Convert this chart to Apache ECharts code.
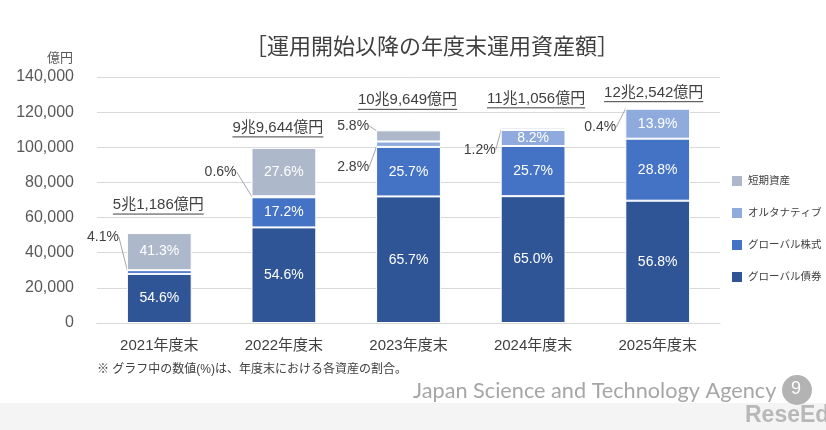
<!DOCTYPE html>
<html>
<head>
<meta charset="utf-8">
<script src="https://cdn.jsdelivr.net/npm/echarts@6/dist/echarts.min.js"></script>
<style>
  html, body { margin: 0; padding: 0; background: #fff; }
  #chart { width: 826px; height: 430px; }
</style>
</head>
<body>
<div id="chart"></div>
<script>
// data (億円 and % of each year end)
var categories = ['2021年度末', '2022年度末', '2023年度末', '2024年度末', '2025年度末'];
var totals = [51186, 99644, 109649, 111056, 122542];
var totalLabels = ['5兆1,186億円', '9兆9,644億円', '10兆9,649億円', '11兆1,056億円', '12兆2,542億円'];
var bondPct = [54.6, 54.6, 65.7, 65.0, 56.8];    // グローバル債券
var equityPct = [4.1, 17.2, 25.7, 25.7, 28.8];   // グローバル株式
var altPct = [0, 0.6, 2.8, 8.2, 13.9];           // オルタナティブ
var shortPct = [41.3, 27.6, 5.8, 1.2, 0.4];      // 短期資産
var yTicks = { min: 0, max: 140000, interval: 20000 };

// layout tweaks for labels (pixels), not data
var totalOffset = [[-1, -28], [-6, -20], [-1, -30], [3, -29], [-4, -15]];
var outsideEquity = { 0: [-3, -35] };
var outsideAlt = { 1: [-10, -25], 2: [-2, 23] };
var outsideShort = { 2: [-2, -10], 3: [0, 21], 4: [-4, 19] };

var FONT = "'Liberation Sans', 'Noto Sans CJK JP', sans-serif";

var chart = echarts.init(document.getElementById('chart'));

// text width for underline
var measureCtx = document.createElement('canvas').getContext('2d');
function textWidth(t, size) {
    measureCtx.font = size + 'px ' + FONT;
    return measureCtx.measureText(t).width;
}

function makeSeries(name, pcts, color, outside) {
    var data = pcts.map(function (p, i) {
        var item = { value: totals[i] * p / 100 };
        if (p <= 0) {
            item.label = { show: false };
        } else if (outside[i]) {
            item.label = { show: true, position: 'left', distance: 5, color: '#404040' };
            item.labelLine = { show: true, lineStyle: { color: '#a6a6a6', width: 1 } };
        }
        return item;
    });
    return {
        name: name,
        type: 'bar',
        stack: 'total',
        barWidth: '52%',
        data: data,
        itemStyle: { color: color, borderColor: '#fff', borderWidth: 1 },
        label: {
            show: true,
            position: 'inside',
            color: '#fff',
            fontSize: 14,
            fontFamily: FONT,
            formatter: function (params) { return pcts[params.dataIndex].toFixed(1) + '%'; }
        },
        labelLayout: function (params) {
            var o = outside[params.dataIndex];
            return o ? { dx: o[0], dy: o[1] } : {};
        }
    };
}

var option = {
    animation: false,
    textStyle: { fontFamily: FONT },
    title: {
        text: '［運用開始以降の年度末運用資産額］',
        left: 240,
        top: 32,
        textStyle: { fontSize: 22, fontWeight: 'normal', color: '#404040', fontFamily: FONT }
    },
    legend: {
        orient: 'vertical',
        left: 730,
        top: 174,
        padding: 0,
        itemWidth: 12,
        itemHeight: 12,
        itemGap: 18,
        icon: 'rect',
        data: ['短期資産', 'オルタナティブ', 'グローバル株式', 'グローバル債券'],
        textStyle: { fontSize: 10.5, color: '#404040', fontFamily: FONT }
    },
    grid: { left: 97, right: 106, top: 77, bottom: 107, containLabel: false },
    xAxis: {
        type: 'category',
        data: categories,
        axisLine: { lineStyle: { color: '#d9d9d9' } },
        axisTick: { show: false },
        axisLabel: { fontSize: 15, color: '#404040', margin: 15, fontFamily: FONT }
    },
    yAxis: {
        type: 'value',
        min: yTicks.min,
        max: yTicks.max,
        interval: yTicks.interval,
        name: '億円',
        nameLocation: 'end',
        nameGap: 12,
        nameTextStyle: { fontSize: 13, color: '#595959', align: 'right', padding: [0, 24, 0, 0] },
        axisLine: { show: false },
        axisTick: { show: false },
        splitLine: { lineStyle: { color: '#d9d9d9' } },
        axisLabel: {
            fontSize: 16,
            color: '#595959',
            margin: 23,
            fontFamily: FONT,
            formatter: function (v) { return v.toLocaleString('en-US'); }
        }
    },
    series: [
        makeSeries('グローバル債券', bondPct, '#2f5597', {}),
        makeSeries('グローバル株式', equityPct, '#4472c4', outsideEquity),
        makeSeries('オルタナティブ', altPct, '#8faadc', outsideAlt),
        makeSeries('短期資産', shortPct, '#adb9ca', outsideShort),
        {
            // underlined totals above bars
            name: 'total',
            type: 'custom',
            z: 10,
            data: totals.map(function (v, i) { return [i, v]; }),
            renderItem: function (params, api) {
                var i = params.dataIndex;
                var pt = api.coord([api.value(0), api.value(1)]);
                var x = pt[0] + totalOffset[i][0];
                var y = pt[1] + totalOffset[i][1];
                var w = textWidth(totalLabels[i], 15);
                return {
                    type: 'group',
                    children: [
                        { type: 'text', style: { text: totalLabels[i], x: x, y: y, align: 'center', verticalAlign: 'middle',
                            font: '15px ' + FONT, fill: '#404040' } },
                        { type: 'line', shape: { x1: x - w / 2, y1: y + 9, x2: x + w / 2, y2: y + 9 },
                            style: { stroke: '#404040', lineWidth: 1 } }
                    ]
                };
            }
        }
    ],
    graphic: [
        { type: 'text', left: 97, top: 364, style: { text: '※ グラフ中の数値(%)は、年度末における各資産の割合。', font: '12px ' + FONT, fill: '#404040' } },
        { type: 'rect', left: 0, top: 403, shape: { width: 826, height: 27 }, style: { fill: '#f4f4f4' }, z: -1 },
        { type: 'text', left: 413, top: 380, style: { text: 'Japan Science and Technology Agency', font: '21.7px Lato, sans-serif', fill: '#a6a6a6' } },
        { type: 'circle', shape: { cx: 797, cy: 390, r: 15 }, style: { fill: '#b3b3b3' } },
        { type: 'text', left: 791, top: 380, style: { text: '9', font: '18px ' + FONT, fill: '#fff' } },
        { type: 'text', left: 745, top: 404, style: { text: 'ReseEd', font: 'bold 23px ' + FONT, fill: '#b8b8b8' } }
    ]
};

chart.setOption(option);

window.addEventListener('resize', function () { chart.resize(); });
</script>
</body>
</html>
